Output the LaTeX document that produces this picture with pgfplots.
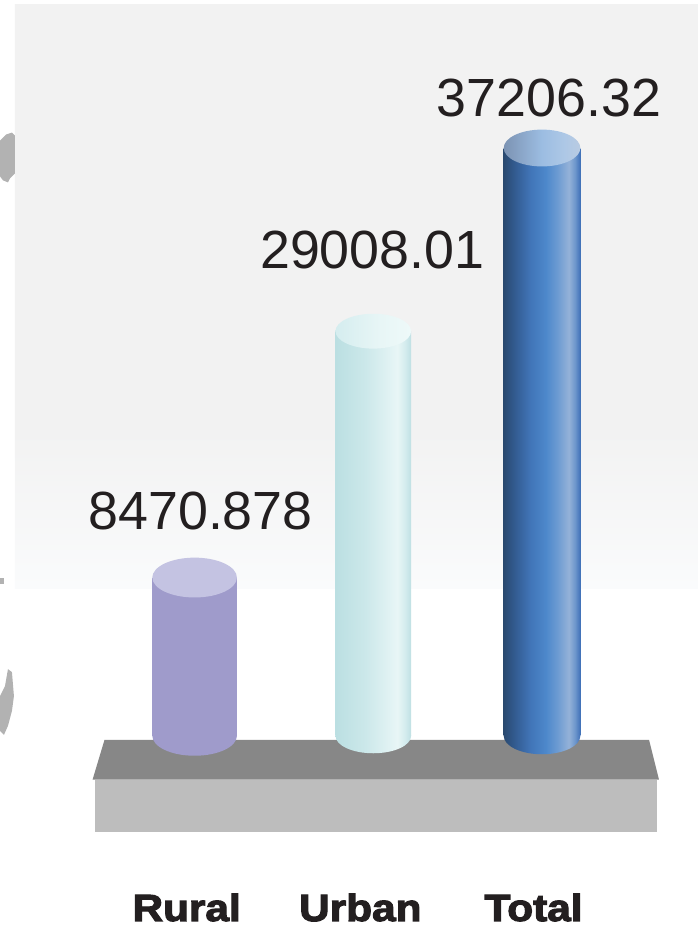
\documentclass[border=0pt]{standalone}
\usepackage{pgfplots}
\pgfplotsset{compat=1.18}
\usepackage{fontspec}
\setmainfont{Liberation Sans}
\newfontfamily\catfont[FakeStretch=1.12,BoldFeatures={FakeBold=3}]{Liberation Sans}
\usetikzlibrary{shapes.geometric}

\definecolor{panelgray}{HTML}{F2F2F2}
\definecolor{panelfade}{HTML}{FAFBFC}
\definecolor{platdark}{HTML}{878787}
\definecolor{platlight}{HTML}{BDBDBD}
\definecolor{blob}{HTML}{B2B2B2}
\definecolor{txt}{HTML}{231F20}
% Rural
\definecolor{rbody}{HTML}{9F9BCB}
\definecolor{rtop}{HTML}{C4C3E2}
% Urban
\definecolor{ub0}{HTML}{BBDFE2}
\definecolor{ub1}{HTML}{CCE8EA}
\definecolor{ub2}{HTML}{E0F2F3}
\definecolor{ub3}{HTML}{E8F6F6}
\definecolor{ub4}{HTML}{D4ECEE}
\definecolor{ub5}{HTML}{BFE0E3}
\definecolor{ut0}{HTML}{D5EDEF}
\definecolor{ut1}{HTML}{E8F6F6}
\definecolor{ut2}{HTML}{EEF9F9}
% Total
\definecolor{tb0}{HTML}{2A4A70}
\definecolor{tb1}{HTML}{335C92}
\definecolor{tb2}{HTML}{4175B8}
\definecolor{tb3}{HTML}{4D88CB}
\definecolor{tb4}{HTML}{6C9BD2}
\definecolor{tb5}{HTML}{94B2D8}
\definecolor{tb6}{HTML}{6E97CC}
\definecolor{tb7}{HTML}{3F70B8}
\definecolor{tt0}{HTML}{7C93B3}
\definecolor{tt1}{HTML}{9CBDE2}
\definecolor{tt2}{HTML}{AEC8E6}
\definecolor{tt3}{HTML}{B9CBE2}

\pgfdeclareverticalshading{panel}{100bp}{color(0bp)=(panelfade); color(25bp)=(panelfade); color(38.5bp)=(panelgray); color(75bp)=(panelgray); color(100bp)=(panelgray)}
\pgfdeclarehorizontalshading{urbanbody}{100bp}{color(0bp)=(ub0); color(25bp)=(ub0); color(45bp)=(ub1); color(60bp)=(ub2); color(66bp)=(ub3); color(71bp)=(ub4); color(75bp)=(ub5); color(100bp)=(ub5)}
\pgfdeclarehorizontalshading{urbantop}{100bp}{color(0bp)=(ut0); color(25bp)=(ut0); color(55bp)=(ut1); color(75bp)=(ut2); color(100bp)=(ut2)}
\pgfdeclarehorizontalshading{totalbody}{100bp}{color(0bp)=(tb0); color(25bp)=(tb0); color(32.5bp)=(tb1); color(42.5bp)=(tb2); color(52.5bp)=(tb3); color(60bp)=(tb4); color(67.5bp)=(tb5); color(71.5bp)=(tb6); color(75bp)=(tb7); color(100bp)=(tb7)}
\pgfdeclarehorizontalshading{totaltop}{100bp}{color(0bp)=(tt0); color(25bp)=(tt0); color(50bp)=(tt1); color(65bp)=(tt2); color(75bp)=(tt3); color(100bp)=(tt3)}

\newcommand{\valfont}{\fontsize{27}{30}\selectfont}

\begin{document}
\begin{tikzpicture}
\begin{axis}[
  scale only axis,
  width=350.5pt, height=464pt,
  xmin=0, xmax=701, ymin=-189, ymax=739,
  enlargelimits=false,
  clip=false,
  axis line style={draw=none},
  major tick length=0pt,
  ytick=\empty,
  xtick={187.5,362,536},
  xticklabels={Rural,Urban,Total},
  xticklabel style={font=\catfont\bfseries\fontsize{19}{21}\selectfont, text=txt, anchor=base, yshift=1.5pt},
]
% background
\path (axis cs:0,-189) rectangle (axis cs:701,739);
\fill[shading=panel, draw=none] (axis cs:15,735) rectangle (axis cs:701,148);
% map fragments at left edge
\fill[blob] (axis cs:0,598) -- (axis cs:6,604) -- (axis cs:12,606) -- (axis cs:15,603) -- (axis cs:15,565) -- (axis cs:10,560) -- (axis cs:8,556) -- (axis cs:3,558) -- (axis cs:0,562) -- cycle;
\fill[blob] (axis cs:0,153) rectangle (axis cs:4,159);
\fill[blob] (axis cs:0,40) -- (axis cs:5,50) -- (axis cs:8,67) -- (axis cs:12,64) -- (axis cs:14,40) -- (axis cs:12,25) -- (axis cs:8,10) -- (axis cs:4,1) -- (axis cs:0,5) -- cycle;
% platform
\fill[platdark] (axis cs:105,-4) -- (axis cs:652,-4) -- (axis cs:662,-44) -- (axis cs:93,-44) -- cycle;
\fill[platlight] (axis cs:95,-44) rectangle (axis cs:660,-97);

% ---- Rural ----
\addplot[draw=none, mark=none, nodes near coords={}, nodes near coords style={ellipse, fill=rbody, minimum width=42.5pt, minimum height=20pt, inner sep=0pt, anchor=center}] coordinates {(195.5,0)};
\addplot[ybar, bar width=42.5pt, bar shift=0pt, draw=none, fill=rbody] coordinates {(195.5,159)};
\addplot[draw=none, mark=none, nodes near coords={}, nodes near coords style={ellipse, fill=rtop, minimum width=42.5pt, minimum height=20pt, inner sep=0pt, anchor=center}] coordinates {(195.5,159)};
\addplot[draw=none, mark=none, point meta=explicit symbolic, nodes near coords, nodes near coords style={anchor=base, font=\valfont, text=txt, xshift=3pt, yshift=24pt}] coordinates {(195.5,159) [8470.878]};

% ---- Urban ----
\addplot[draw=none, mark=none, nodes near coords={}, nodes near coords style={ellipse, shading=urbanbody, minimum width=38pt, minimum height=17.5pt, inner sep=0pt, anchor=center}] coordinates {(375,0)};
\addplot[ybar, bar width=38pt, bar shift=0pt, draw=none, shading=urbanbody] coordinates {(375,406.5)};
\addplot[draw=none, mark=none, nodes near coords={}, nodes near coords style={ellipse, shading=urbantop, minimum width=38pt, minimum height=17.5pt, inner sep=0pt, anchor=center}] coordinates {(375,406.5)};
\addplot[draw=none, mark=none, point meta=explicit symbolic, nodes near coords, nodes near coords style={anchor=base, font=\valfont, text=txt, xshift=-0.5pt, yshift=31.25pt}] coordinates {(375,406.5) [29008.01]};

% ---- Total ----
\addplot[draw=none, mark=none, nodes near coords={}, nodes near coords style={ellipse, shading=totalbody, minimum width=38.5pt, minimum height=18.5pt, inner sep=0pt, anchor=center}] coordinates {(544.5,0)};
\addplot[ybar, bar width=38.5pt, bar shift=0pt, draw=none, shading=totalbody] coordinates {(544.5,590.5)};
\addplot[draw=none, mark=none, nodes near coords={}, nodes near coords style={ellipse, shading=totaltop, minimum width=38.5pt, minimum height=18.5pt, inner sep=0pt, anchor=center}] coordinates {(544.5,590.5)};
\addplot[draw=none, mark=none, point meta=explicit symbolic, nodes near coords, nodes near coords style={anchor=base, font=\valfont, text=txt, xshift=3.5pt, yshift=15.75pt}] coordinates {(544.5,590.5) [37206.32]};
\end{axis}
\end{tikzpicture}
\end{document}
